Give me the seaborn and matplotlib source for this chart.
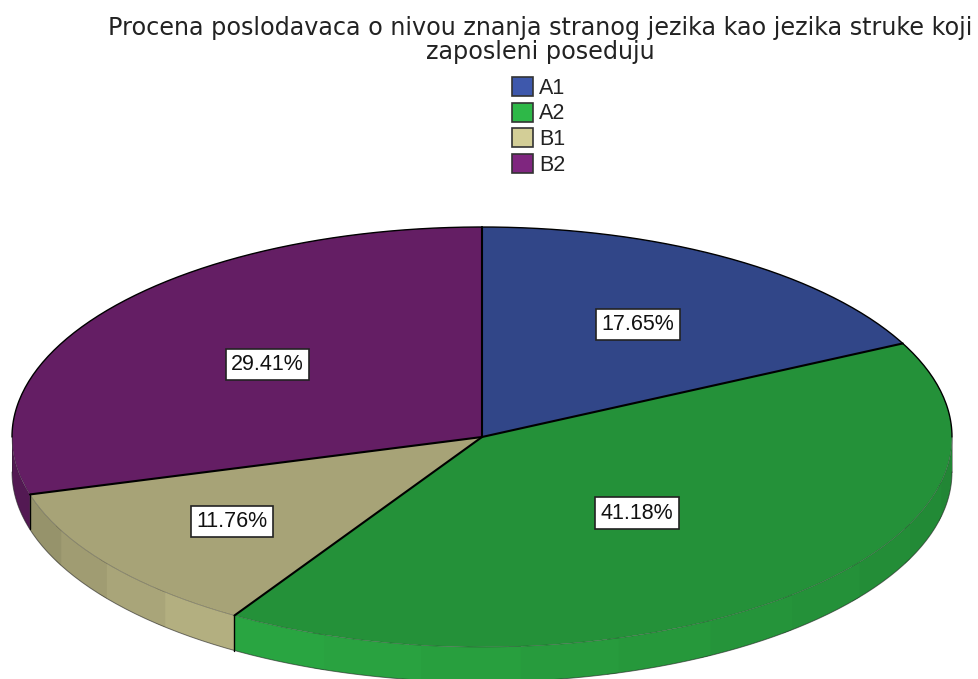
#!/usr/bin/env python3
import numpy as np
import matplotlib
matplotlib.use("Agg")
import matplotlib.pyplot as plt
import seaborn as sns

title = "Procena poslodavaca o nivou znanja stranog jezika kao jezika struke koji\nzaposleni poseduju"
categories = ["A1", "A2", "B1", "B2"]
percents = [17.65, 41.18, 11.76, 29.41]
base_colors = ["#3E58AC", "#2EB848", "#D3CE97", "#7F267F"]

sns.set_theme(style="white")
plt.rcParams["font.family"] = ["Liberation Sans", "DejaVu Sans"]

W, H = 979, 679
CX, CY, RX, RY = 482, 437, 470, 210
DEPTH = 35 / RY
TOP_SHADE = 0.79
LABEL_RADIUS = [0.63, 0.49, 0.667, 0.572]

palette = sns.color_palette(base_colors)


def shade(color, k):
    return tuple(c * k for c in color)


def wall_shade(deg):
    # deg is clockwise from 12 o'clock
    return np.interp(deg, [90, 205, 270], [0.72, 0.90, 0.62])


def rim(deg):
    rad = np.radians(deg)
    return np.sin(rad), np.cos(rad)


fig = plt.figure(figsize=(W / 100, H / 100), dpi=100)
ax = fig.add_axes([(CX - RX) / W, 1 - (CY + RY) / H, 2 * RX / W, 2 * RY / H])

# side wall, in flat bands like the original
edges = np.concatenate([[0], np.cumsum(percents) / sum(percents) * 360])
for i, color in enumerate(palette):
    start, stop = max(edges[i], 90), min(edges[i + 1], 270)
    if start >= stop:
        continue
    n_bands = max(1, int(round((stop - start) / 12)))
    cuts = np.linspace(start, stop, n_bands + 1)
    for a, b in zip(cuts[:-1], cuts[1:]):
        # run each band under the next one so no seam shows
        t = np.linspace(a, min(b + 1.5, stop), 30)
        x, y = rim(t)
        c = shade(color, wall_shade((a + b) / 2))
        ax.fill_between(x, y, y - DEPTH, facecolor=c, edgecolor="none", clip_on=False)

# top face
colors_top = [shade(c, TOP_SHADE) for c in palette]
wedges, _ = ax.pie(
    percents,
    colors=colors_top,
    startangle=90,
    counterclock=False,
    radius=1,
    wedgeprops=dict(linewidth=0, clip_on=False),
)
ax.set_aspect("auto")
ax.set_xlim(-1, 1)
ax.set_ylim(-1, 1)

# outlines
t = np.linspace(-90, 90, 200)
x, y = rim(t)
ax.plot(x, y, color="black", lw=1.0, clip_on=False)
t = np.linspace(90, 270, 200)
x, y = rim(t)
ax.plot(x, y, color="#222222", lw=0.5, alpha=0.45, clip_on=False)
ax.plot(x, y - DEPTH, color="#222222", lw=0.7, alpha=0.6, clip_on=False)
ax.plot([-1, -1], [0, -DEPTH], color="#222222", lw=0.5, alpha=0.6, clip_on=False)
ax.plot([1, 1], [0, -DEPTH], color="#222222", lw=0.5, alpha=0.6, clip_on=False)

for deg in edges[:-1]:
    x, y = rim(deg)
    ax.plot([0, x], [0, y], color="black", lw=1.5, clip_on=False)
    if 90 < deg < 270:
        ax.plot([x, x], [y, y - DEPTH], color="black", lw=1.0, clip_on=False)

# value labels
for i, val in enumerate(percents):
    mid = (edges[i] + edges[i + 1]) / 2
    x, y = rim(mid)
    ax.text(
        LABEL_RADIUS[i] * x,
        LABEL_RADIUS[i] * y,
        f"{val:.2f}%",
        ha="center",
        va="center",
        fontsize=15.5,
        color="#111111",
        bbox=dict(boxstyle="square,pad=0.25", fc="white", ec="#222222", lw=1.2),
    )

fig.text(
    540 / W,
    1 - 40 / H,
    title,
    ha="center",
    va="center",
    fontsize=17.2,
    family="DejaVu Sans",
    color="#222222",
    linespacing=0.98,
)

handles = [plt.Rectangle((0, 0), 1, 1, fc=c, ec="#333333", lw=1.2) for c in palette]
fig.legend(
    handles,
    categories,
    loc="upper left",
    bbox_to_anchor=(497 / W, 1 - 62 / H),
    frameon=False,
    fontsize=15.5,
    handlelength=0.98,
    handleheight=0.98,
    handletextpad=0.28,
    labelspacing=0.17,
    borderpad=0.2,
    labelcolor="#222222",
)

fig.savefig("out.png", dpi=100, facecolor="white")
